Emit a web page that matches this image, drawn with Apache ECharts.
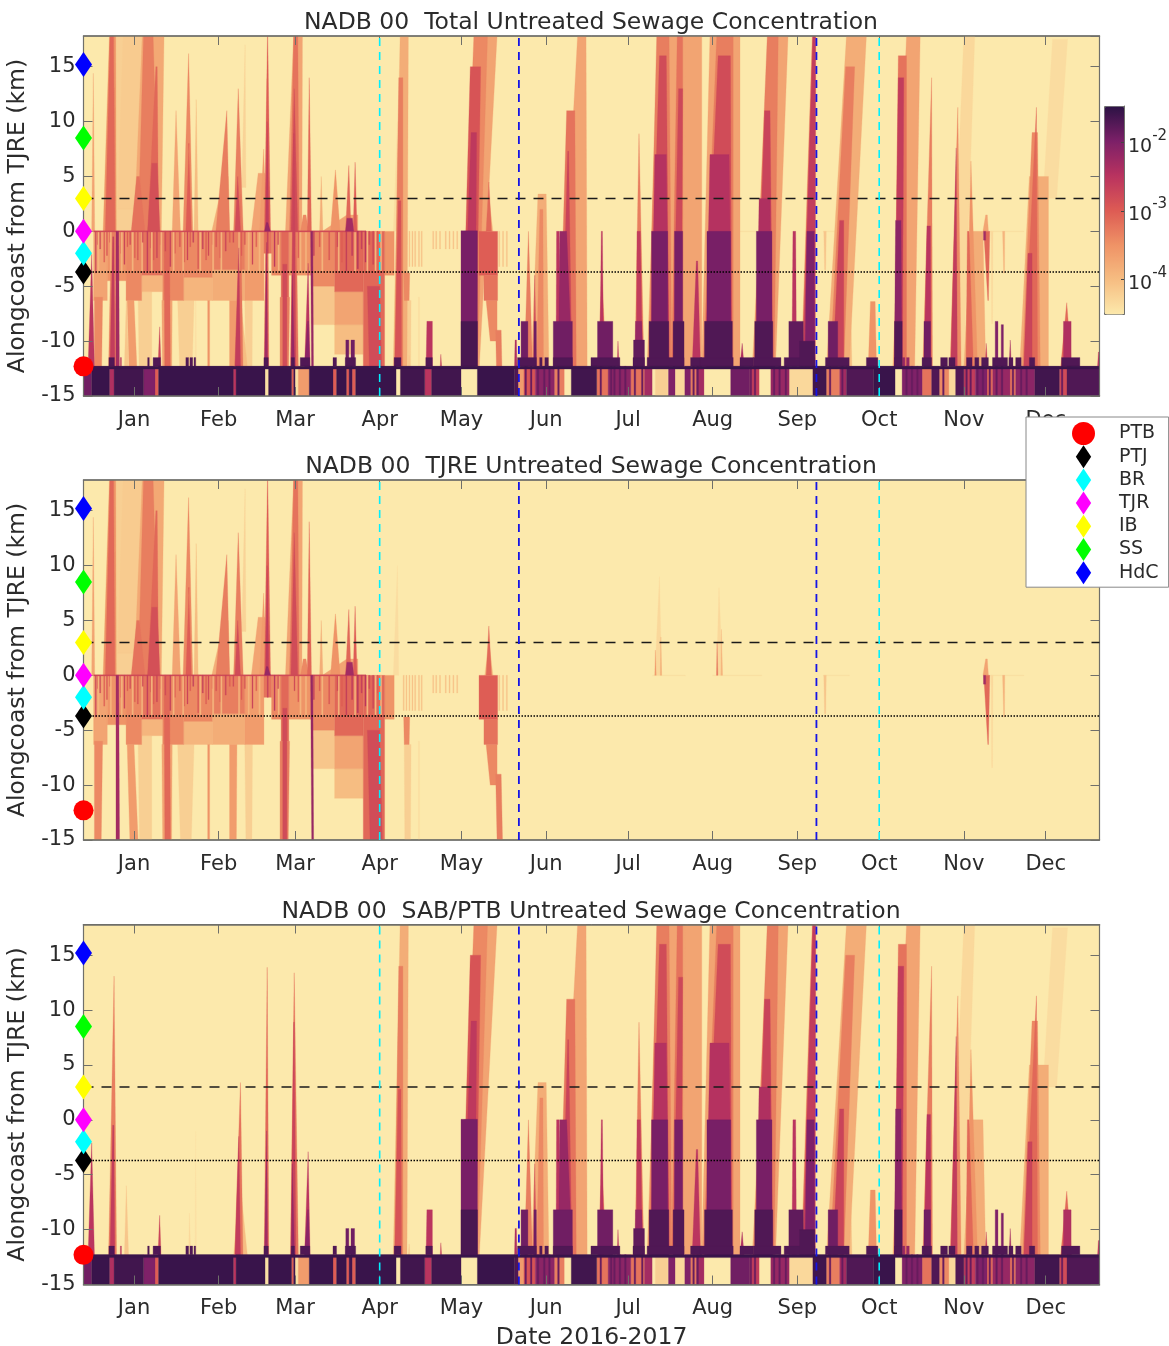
<!DOCTYPE html>
<html><head><meta charset="utf-8">
<style>html,body{margin:0;padding:0;background:#fff}#c{width:1169px;height:1346px}</style>
<script src="https://cdn.jsdelivr.net/npm/echarts@6/dist/echarts.min.js"></script>
</head><body><div id="c"></div>
<script>
const titles = ['NADB 00  Total Untreated Sewage Concentration','NADB 00  TJRE Untreated Sewage Concentration','NADB 00  SAB/PTB Untreated Sewage Concentration'];
const monthNames = ['Jan','Feb','Mar','Apr','May','Jun','Jul','Aug','Sep','Oct','Nov','Dec'];
const monthDays = [0,31,59,90,120,151,181,212,243,273,304,334];
const sites = [['PTB',-12.3],['PTJ',-3.7],['BR',-2],['TJR',0],['IB',3],['SS',8.5],['HdC',15.2]];
const siteColors = ['#ff0000','#000000','#00ffff','#ff00ff','#ffff00','#00ff00','#0000ff'];
const dashedKm = 3, dottedKm = -3.7;
const cyanDays = [90,273], blueDays = [141,250];
const colorbarTicks = [-4,-3,-2];

// all concentrations are log10; day 0 = 1 Jan. Plume row: [log10 c, dayL, dayR, km, topDayL, topDayR, topKm]
const sabPlumes = [
[-2.5,-16.8,-14.5,-12.3,-15.5,-15.5,-2.1],
[-3.3,-9.3,-6.4,-12.3,-7.3,-7.3,13.1],[-2.6,-8.8,-7,-12.3,-7.8,-7.4,-0.5],
[-4.1,-3.5,-2,-12.3,-2.8,-2.8,-6],[-2.7,8.8,9.9,-12.3,9.4,9.4,-8.7],
[-4.3,20,20.8,-12.3,20.3,20.3,-8.5],[-4.4,22.3,22.9,-12.3,22.6,22.6,-1],
[-4,36.5,41.5,-12.3,39,39,-6],[-3.2,36.9,39.9,-12.3,39,39,3.4],[-2.6,37,39,-12.3,38.4,38.4,-1.5],
[-3.1,47.7,49.4,-12.3,48.8,48.8,13.9],[-2.3,47.8,49,-12.3,48.6,48.6,-1],
[-3.2,57.3,60.2,-12.3,58.7,58.7,13.4],[-2.7,57.5,59.3,-12.3,58.5,58.7,8.9],[-2.2,57.6,58.8,-12.3,58,58,-4],
[-2.5,62.5,64.5,-12.3,63.8,63.8,-2.9],[-2.1,62.5,64.4,-12.3,63.6,63.9,-8.2],
[-3.8,95,100,-12.3,97.5,100.5,17.8],[-3.3,95.5,98.5,-12.3,97,98.5,14],[-2.9,95.5,98,-12.3,96.8,97.8,2.8],
[-4.1,100.5,101,-12.3,100.8,100.8,-11.3],[-2.5,107,109.3,-12.3,107.3,109.3,-8.2],[-2.6,112.2,112.7,-12.3,112.4,112.4,-11.2],
[-3.7,120,126.5,-12.3,125,133,17.8],[-3.4,120,125.8,-12.3,124.5,129.5,17.8],[-2.9,120.2,125.3,-12.3,123.2,127,15],[-2.55,120.5,125,-12.3,123.5,125.5,9],[-2.15,120,125,-12.3,121,124.5,0],
[-2.4,139.4,140.3,-12.3,139.6,140.1,-9.9],[-3.3,143,146,-12.3,144.5,144.5,0],[-3.8,145.5,152,-12.3,148,151,3.4],
[-2.8,146.3,147.4,-12.3,146.8,146.8,-4],[-3.4,147.5,150,-12.3,148.7,149.8,2],[-2.5,154.6,156.3,-12.3,154.8,155.8,0],
[-3.7,156,166,-12.3,162.5,165.6,17.8],[-3.2,155.8,162,-12.3,158.5,161.5,11],[-2.7,156.7,160.4,-12.3,158.9,159.2,7.3],[-2.2,155.5,160.5,-12.3,156,158.5,0],
[-2.5,170.6,172,-12.3,171.2,171.6,0],[-3.1,170,173,-12.3,171.4,171.4,-4],[-2.5,177,177.7,-12.3,177.3,177.3,-10],
[-3.3,183.5,186.8,-12.3,185,185,8.9],[-2.6,184,186.3,-12.3,184.3,185.5,0],[-2.2,183.5,186.5,-12.3,183.7,186,-8.2],
[-3.7,188,202,-12.3,192,203,17.8],[-3.3,188.5,197,-12.3,191.5,196,17.8],[-2.8,189,196,-12.3,192.5,195,16],[-2.45,189.5,196,-12.3,190.8,195,7],
[-3.2,197,201,-12.3,199,201,17.8],[-2.75,197.5,200.5,-12.3,199.5,201,13],
[-3.7,201,208,-12.3,202,208,17.8],[-2.5,204.5,207.5,-12.3,206,206.5,-2.7],
[-3.7,208,222,-12.3,211,222,17.8],[-3.3,208.5,219.5,-12.3,213.5,219.5,17.8],[-2.8,209,219,-12.3,214,218.5,16],[-2.45,209.5,219,-12.3,211,218,7],
[-2.4,222,223.5,-12.3,222.8,222.8,-10.2],
[-3.7,226.5,235,-12.3,233,239.6,17.8],[-3.3,227,234.5,-12.3,232,236,17.8],[-2.7,228,234,-12.3,231,233,11],[-2.4,228,233.7,-12.3,229,233,3],
[-2.5,241,242.7,-12.3,241.4,242.4,0],
[-3.2,244.5,249.6,-12.3,248.5,249.8,17.8],[-2.6,245,249.4,-12.3,248.7,249.6,17.8],[-2,245.8,249.4,-12.3,246.5,249.2,0],
[-3.8,253.7,262,-12.3,261,268.3,17.8],[-3.3,255,260,-12.3,260.7,264,15],[-2.7,256,260,-12.3,258.5,260,1],[-4,258,263,-12.3,260,262.5,-6.4],
[-3.5,269,272,-12.3,269.8,271.5,-6.4],
[-3.7,278,286,-12.3,283,288,17.8],[-3.2,278.6,283,-12.3,280,283,16],[-2.6,278.6,281.5,-12.3,280,282,14],[-2.1,278.6,281.3,-12.3,279,281,1],
[-3.3,289,292.5,-12.3,292.2,292.2,14],[-2.5,289.4,292,-12.3,290.5,291.8,0.5],
[-4.3,299,304,-12.3,304,308,17.8],[-3.4,299,303,-12.3,301.8,301.8,11.3],[-2.6,299.2,301.6,-12.3,301.2,301.2,7.6],
[-3.8,304,312,-12.3,306.5,311,0],[-3.5,304.8,309,-12.3,306.6,306.6,6.4],[-3.1,304.8,307.5,-12.3,305.3,305.9,0],
[-2.7,311.8,312.7,-12.3,312.2,312.2,-10.2],[-2.3,320.6,321.4,-12.3,321,321,-9.9],
[-4.35,333,338,3,336.5,342,17.5],[-3.8,324.5,335,-12.3,328,335,5],[-3.4,325.5,332,-12.3,329,331,9],[-3.1,326,331,-12.3,330.6,330.6,11.3],[-2.7,326,329,-12.3,327.5,329,-2],
[-3.1,339.5,343.5,-12.3,341.7,341.7,-6.5],[-2.5,353,353.7,-12.3,353.3,353.7,-11]
];
// dark boxes standing on the strip: [log10 c, dayL, dayR, topKm]
const sabBoxes = [
[-1.7,-9.2,-7.2,-11.5],[-2.5,-5,-4.6,-11.5],[-1.7,5,5.6,-11.5],[-1.7,7,9.7,-11.5],[-1.7,19,20,-11.5],[-1.7,20.5,21.5,-11.5],[-1.7,22,22.6,-11.5],
[-1.7,47.6,49.2,-11.5],[-1.7,57.6,58.8,-11.5],[-1.7,60.9,64.4,-11.5],[-1.7,72.9,74.2,-11.5],[-1.9,77.6,78.7,-9.9],[-1.9,79.5,80.8,-9.9],[-1.7,77.4,81.2,-11.5],
[-1.7,95.3,97.8,-11.5],[-1.7,106.9,109.3,-11.5],[-1.95,119.8,125.8,0.05],[-1.65,119.8,125.8,-8.2],
[-1.7,140.5,147.4,-11.5],[-1.7,148.6,149.5,-11.5],[-1.7,150.5,151.8,-11.5],[-1.7,153.6,160.6,-11.5],[-1.9,141.8,144.3,-8.2],[-1.9,146.5,147.4,-8.2],[-1.9,153.6,160.6,-8.2],
[-1.9,169.8,175.4,-8.2],[-1.7,167.4,178,-11.5],[-1.8,183,187,-9.9],[-1.7,182.8,187,-11.5],
[-1.95,189.6,195.5,0],[-1.7,188.7,195.9,-8.2],[-1.95,198,201,0],[-1.7,197.5,201.5,-8.2],[-1.7,188,201.5,-11.5],[-1.7,203.9,208,-11.5],
[-1.95,209.9,218.6,0],[-1.7,209,219.2,-8.2],[-1.7,207.5,219.5,-11.5],[-1.7,222,227,-11.5],
[-1.95,228,233.7,0],[-1.7,227.4,234,-8.2],[-1.7,226.9,237,-11.5],
[-1.8,239.9,245.2,-8.2],[-1.7,238.2,249.4,-11.5],[-1.7,243.8,249.4,-10],
[-1.9,254.3,257.8,-8.2],[-1.7,253.3,262,-11.5],[-1.7,268.3,272.5,-11.5],
[-1.7,278.6,281.4,-8.2],[-1.7,278.6,281.4,-11.5],[-2.2,281.7,282.4,-11.5],[-2.2,283,284,-11.5],
[-1.9,289.4,291.8,-8.2],[-1.7,288.7,292.2,-11.5],[-1.7,295.5,298,-11.5],[-1.7,298.5,300.8,-11.5],
[-1.7,305,307,-11.5],[-1.7,308,309.5,-11.5],[-1.7,310.5,313,-11.5],[-2,315.5,316.5,-8.2],[-2,317.7,318.5,-8.5],[-1.7,314.5,320,-11.5],[-1.7,320.5,322,-11.5],
[-1.7,323,325,-11.5],[-1.7,328,330,-11.5],[-2.4,340.5,343.3,-8.2],[-1.7,339.8,346.5,-11.5]
];
// SAB strip south of the border, km -15 to the shoreline: [log10 c, dayL, dayR]
const stripRuns = [
[-1.9,-18.5,-15.5],[-1.55,-15.5,-9],[-2.4,-9,-7.3],[-1.6,-7.3,3.5],[-2,3.5,7.7],[-3,7.7,9],[-1.55,9,36.4],[-2.5,36.4,37.4],[-1.55,37.4,48],[-4.4,48,49.3],
[-1.55,49.3,57.7],[-3,57.7,58.5],[-1.6,58.5,59],[-4.4,59,60.2],[-3.6,60.2,64.2],[-1.55,64.2,72.9],[-3,72.9,74.2],[-1.55,74.2,77.8],[-3,77.8,78.8],[-1.6,78.8,79.9],[-3,79.9,81.2],
[-1.55,81.2,96],[-1.6,97.6,106.5],[-2.5,106.5,109],[-1.6,109,119.8],[-1.55,125.8,139.4],[-1.7,139.4,140.7],[-3.6,140.7,142.8],[-2.9,142.8,147],[-2.1,147,154],[-3.3,154,157.6],
[-1.6,160.2,169.5],[-3.2,169.5,173.7],[-2.1,173.7,182],[-3.2,182,187],[-2.3,187,189.8],[-4.2,191,195.5],[-2,195.8,198.2],[-4.3,198.2,201.8],[-2,201.8,203.9],[-3.3,203.9,206],[-2.3,206,208.8],
[-1.9,218.6,225.6],[-2.6,225.6,229],[-2.2,233.3,240],[-4.3,240,248.7],[-1.6,248.7,253.6],[-3.3,253.6,258.5],[-2.3,258.5,261],[-1.7,261,271],[-1.55,271,278.8],
[-2,281.4,288.7],[-3.2,288.7,292.2],[-1.7,292.2,295],[-3.4,295,298.5],[-4.3,298.5,301],[-1.7,301,304],[-2.6,304,308.2],[-2,308.2,312.5],[-3.1,312.5,314.6],[-2.2,314.6,320.9],[-3.2,320.9,323],
[-2.1,323,330],[-1.6,330,339],[-2.8,339,341.8],[-1.7,341.8,353.7]
];
const stripStreakDays = [143.5,145.5,148,150.3,152.2,155.5,171,174.8,176,178,180,183.5,186.2,205,206.5,226,227.5,234.5,236.5,238.8,255,259.5,283,285,287,296.5,305,306.5,309,311,313.5,316,318,322,325,327,340];
const shorelineKm = -12.3, shelfKm = -12.55, stripBottomKm = -15, firstDay = -18.5, lastDay = 353.7;

const tjrePlumes = [
[-3.7,-15.5,-14.4,0,-14.9,-14.9,14.4],
[-4.2,-11,1,0,-7,2,17.8],[-3.5,-11.3,-6.5,0,-9,-6.7,17.8],[-3.1,-10.5,-7,0,-8.8,-7.5,17.8],[-4.15,-6,3,2,-4,3,17.8],
[-3.75,0,10,0,3,11,17.8],[-3.3,1.5,9,0,3.5,7,17.8],[-3.1,5,9,0,8,8.5,15],[-2.85,5,9.5,0,6.5,8.5,6.2],[-3.2,-1,4,0,1,2,5],
[-3.7,14,17,0,15.4,15.4,11],[-3.4,18,21.5,0,20,20,16.2],[-3,19,21,0,20.2,20,8],[-4,22,23.5,0,22.8,22.8,12],
[-3.8,28.5,35,0,33,34.5,5],[-3.3,30,35,0,34,34,11],[-3.3,36.5,40,0,38.2,38.2,13],[-2.8,37,39,0,38,38,5],
[-3.7,43,48.5,0,45.5,48,5.3],[-3.6,46,48.5,0,47.5,47.5,7.5],[-3,47.8,50,0,48.9,49,17.8],[-2.6,48.2,49.4,0,48.8,48.8,10],[-2.2,47.8,50,0,48.5,49,0.8],
[-4.25,39.5,41,4,40.7,40.7,17],[-3.7,55.5,61.5,0,58.5,61.7,17.8],[-3.2,57,60.5,0,58.5,60,17.8],[-2.8,57.5,60,0,58.7,58.7,13],
[-3.1,63.5,65,0,64.2,64.2,14],[-3.4,61,64,0,62,63,1.5],[-3.8,68,69.2,0,68.6,68.6,5],[-3.5,72,75.5,0,73.8,73.8,5.6],[-3.1,77.5,79.5,0,78.7,78.7,6],[-3,80.3,81.7,0,81,81,6.3],[-2.3,77.5,80.5,0,78,80,1.2],[-3.7,69,82,0,78,82,1.5],
[-4.35,95,97,0,96.5,96.5,10],[-3.1,129,131,0,130,130,4.5],[-3.9,128.5,131.5,0,130,130,3],
[-4.3,190.8,193.3,0,192.5,192.5,9],[-3.6,190.8,191.3,0,191,191,2.3],[-3.8,192.8,193.3,0,193,193,3.5],
[-4.3,213.4,215.6,0,214.3,214.3,8],[-3.2,213.4,213.9,0,213.6,213.6,3],[-3.9,215,215.6,0,215.2,215.2,4.2],
[-4.1,252.7,253.6,0,253,253.4,-3.5],[-3.7,311,313,0,312,312.6,1.5],[-3.1,311.3,313.5,0,312.8,313,-6.3],[-2.3,311.2,312,0,311.2,312,-0.8],[-4.3,314,314.7,0,314.2,314.5,-8.4],[-3.9,318.2,319,0,318.6,318.9,-3.8],
[-3.4,-14.5,-11.5,-6,-14.5,-12,-15],[-2.3,-6.6,-5.6,0,-6.6,-5.3,-15],[-3.6,-2.5,0,-6.3,-1.5,1.5,-15],[-4.2,1.5,6.5,-5.5,2,6.5,-15],
[-3.1,11,13,0,11.3,13.4,-15],[-3.7,10.2,14,-6.3,10.5,13.8,-15],[-4.2,16,22,-6.3,17,21,-15],[-3.5,27,27.7,-6.3,27,27.7,-15],[-3.6,35,37.7,-6.3,35,37.5,-15],[-4.2,40.6,43.4,-6.3,41,43.2,-15],
[-3.3,53.5,57,-6,53.5,56.5,-15],[-2.8,54.5,56,-3,54.5,56,-15],[-2.2,64.7,65.5,0,65.1,65.8,-15],[-2.8,85.5,90,-5,86.5,91,-15],
[-3.4,98.8,101,-3.8,99,100.8,-6.3],[-4.2,99,101.5,-6.3,99.2,101.3,-15],[-4.35,104.2,104.6,-6,104.2,104.6,-15],
[-3.4,129,133,-6.3,130.5,133,-10],[-3.3,132.5,134.5,-9,133,135,-15]
];
// stepped blocks below the river mouth: [log10 c, dayL, dayR, bottomKm, topKm]
const tjreBlocks = [
[-3.7,-14.8,-9.8,-6.3,0],[-3.5,-9.8,-2.9,-4.5,0],[-3.4,-2.9,2.8,-6.3,0],[-3.2,2.8,10.5,-4,0],[-3.9,2.8,10.5,-5.5,-4],[-3.4,10.5,18.2,-6.3,0],
[-3.4,18.2,28.7,-4.2,0],[-3.9,18.2,28.7,-6.3,-4.2],[-3.3,28.7,40.6,-3.5,0],[-3.8,28.7,40.6,-6.3,-3.5],[-3.6,40.6,47.6,-6.3,0],[-3.2,47.6,50.4,-2,0],[-3.4,50.4,53.9,-4,0],
[-3.1,53.9,56.7,-6,0],[-3.5,56.7,65,-4,0],[-3.4,65,73.5,-5,0],[-4.1,65,73.5,-8.5,-5],[-3.1,73.5,84,-5.5,0],[-3.7,73.5,84,-8.5,-5.5],[-4,73.5,84,-11.2,-8.5],[-3.1,84,91.8,-15,0],[-3.5,91.8,95.3,-4,0],
[-3,126.4,133.2,-4,0],[-3.2,128.2,133.2,-6.3,-4],[-2.8,-14.8,85,-0.06,0.05],
[-4.4,252.5,262,-0.05,0.03],[-4.4,212,230,-0.05,0.03],[-4.4,312,326,-0.05,0.03],[-4.4,190,202,-0.05,0.03]
];
// streaks in the river-mouth band: [day, bottomKm, log10 c]
const tjreDarkStreaks = [[-14,-3.8,-2.7],[-13.3,-1.2,-3],[-12.4,-1.6,-2.8],[-10.9,-2.8,-3],[-9.9,-2.2,-2.9],[-8.8,-1,-3],[-4.7,-2,-3],[-3.5,-3,-2.7],[-2.4,-1.4,-3],[-1.4,-1.2,-2.8],[0.3,-2.4,-3],[1.4,-2.6,-2.9],[3.2,-1,-2.8],[4.9,-3.6,-2.6],[6.2,-1.5,-2.9],[7.2,-2.6,-3],[8.4,-2.4,-2.7],[9.8,-1.2,-3],[11.5,-1.8,-2.8],[13.3,-3.2,-2.6],[15,-2,-3],[16.8,-1.4,-2.9],[18.4,-2.8,-3],[19.6,-2.6,-2.7],[20.6,-1.4,-3],[21.7,-1,-2.6],[23.5,-3.4,-2.9],[25.2,-1.6,-2.6],[26.4,-2.6,-3],[27.3,-2.2,-2.8],[28.8,-1.2,-3],[30.1,-1.4,-2.9],[31.6,-2.4,-3],[33.6,-1.8,-2.7],[35.1,-1,-3],[36.4,-1,-2.8],[39.4,-2.2,-3],[40.6,-1.2,-2.9],[43.4,-3,-2.7],[44.8,-1.4,-3],[49,-2,-2.6],[51.5,-3.2,-2.5],[52.8,-1.2,-2.8],[58.8,-1.4,-2.8],[60.2,-2.4,-3],[65.9,-2.2,-2.6],[68,-1.4,-3],[71.5,-2.6,-2.9],[74.5,-1.4,-2.8],[76.2,-2.8,-3],[77.8,-3.6,-2.6],[79.9,-2.2,-2.5],[82,-3.4,-2.4],[83.4,-1.6,-2.6],[84.8,-2.8,-2.5],[86.2,-1.2,-2.8],[87.6,-3,-2.7],[89.2,-1.6,-3]];
const tjreLightStreaks = [-13,-8.5,-4.5,-0.5,3,6.5,10,14.5,18,24.3,29,32,38.5,42,46,53,61,63,69,75,81,85.5,88.5,90.5];
const tjreFaintStreaks = [98.8,99.8,100.9,102,103,104.4,105.4,109.6,110.7,112.1,114.2,115.6,117,118.4,133.8,135.2,136.6];

const box = r => [r[0],r[1],r[2],r[3],r[1],r[2],r[4]];
const streak = (day,v,km,key,w) => [v,day-w/2,day+w/2,km,day-w/2,day+w/2,0,key];
const sabRows = sabPlumes.concat(sabBoxes.map(r=>box([r[0],r[1],r[2],shorelineKm,r[3]])));
const stripRows = stripRuns.map(r=>box([r[0],r[1],r[2],stripBottomKm,shorelineKm]))
  .concat([box([-1.55,firstDay,lastDay,shelfKm,shorelineKm])],
    stripStreakDays.map(d=>box([-1.85,d-0.3,d+0.3,stripBottomKm,shorelineKm])));
const tjreRows = tjrePlumes.concat(tjreBlocks.map(box),
  tjreLightStreaks.map(d=>streak(d,-3.9,-3.6,-2.85,0.5)),
  tjreDarkStreaks.map(s=>streak(s[0],s[2],s[1],s[2],0.35)),
  tjreFaintStreaks.map(d=>streak(d,-4.05,d<106||d>130?-3.2:-1.6,-3.9,0.35)));
const order = rows => rows.slice().sort((a,b)=>(a[7]??a[0])-(b[7]??b[0]));
const panelRows = [order(sabRows.concat(stripRows,tjreRows)),order(tjreRows),order(sabRows.concat(stripRows))];

const plotLeft=83.5, plotWidth=1016, plotHeight=360, plotTops=[36,480,924.5];
const kmMin=-15, kmMax=17.8;
const lineCol='#6f6f6a', textCol='#2b2b2b', font='DejaVu Sans';
const grid=[],xAxis=[],yAxis=[],series=[];
function renderPlume(params,api){
  const pts=[[api.value(1),api.value(3)],[api.value(2),api.value(3)],[api.value(5),api.value(6)],[api.value(4),api.value(6)]].map(c=>api.coord(c));
  const col=api.visual('color');
  return {type:'polygon',shape:{points:pts},style:{fill:col,stroke:col,lineWidth:0.3}};
}
plotTops.forEach((top,i)=>{
  grid.push({left:plotLeft,top,width:plotWidth,height:plotHeight,show:true,backgroundColor:'#FCE9AC',borderColor:lineCol,borderWidth:1,z:0,outerBoundsMode:'none'});
  const xBase={type:'value',min:firstDay,max:lastDay,gridIndex:i,splitLine:{show:false},z:3,
    axisLine:{show:true,onZero:false,lineStyle:{color:lineCol,width:1.5}},
    axisTick:{show:true,inside:true,length:9,customValues:monthDays,lineStyle:{color:lineCol}}};
  xAxis.push(Object.assign({},xBase,{position:'bottom',
    axisLabel:{show:true,customValues:monthDays,margin:14,color:textCol,fontFamily:font,fontSize:21,
      formatter:v=>monthNames[monthDays.indexOf(v)]},
    name:i===2?'Date 2016-2017':'',nameLocation:'middle',nameGap:41,nameTextStyle:{color:textCol,fontFamily:font,fontSize:23.5}}));
  xAxis.push(Object.assign({},xBase,{position:'top',axisLabel:{show:false}}));
  const yBase={type:'value',min:kmMin,max:kmMax,interval:5,gridIndex:i,splitLine:{show:false},z:3,
    axisLine:{show:true,onZero:false,lineStyle:{color:lineCol,width:1.2}},
    axisTick:{show:true,inside:true,length:9,lineStyle:{color:lineCol}}};
  yAxis.push(Object.assign({},yBase,{position:'left',
    axisLabel:{show:true,margin:8,color:textCol,fontFamily:font,fontSize:21,showMaxLabel:false},
    name:'Alongcoast from TJRE (km)',nameLocation:'middle',nameRotate:90,nameGap:47,
    nameTextStyle:{color:textCol,fontFamily:font,fontSize:23.5}}));
  yAxis.push(Object.assign({},yBase,{position:'right',axisLabel:{show:false}}));
  series.push({type:'custom',name:'plumes'+i,xAxisIndex:2*i,yAxisIndex:2*i,data:panelRows[i],renderItem:renderPlume,
    encode:{x:[1,2,4,5],y:[3,6]},clip:true,silent:true,progressive:0,animation:false,z:2});
});
plotTops.forEach((top,i)=>{
  const ax={xAxisIndex:2*i,yAxisIndex:2*i,type:'line',showSymbol:false,symbol:'none',silent:true,animation:false,z:4};
  series.push(Object.assign({},ax,{data:[[firstDay,dashedKm],[lastDay,dashedKm]],lineStyle:{color:'#1a1a1a',width:1.4,type:[10,8]}}));
  series.push(Object.assign({},ax,{data:[[firstDay,dottedKm],[lastDay,dottedKm]],lineStyle:{color:'#000',width:1.6,type:[1.5,1.5]}}));
  cyanDays.forEach(d=>series.push(Object.assign({},ax,{data:[[d,kmMin],[d,kmMax]],lineStyle:{color:'#00f0ff',width:1.6,type:[8,6]}})));
  blueDays.forEach(d=>series.push(Object.assign({},ax,{data:[[d,kmMin],[d,kmMax]],lineStyle:{color:'#1414e6',width:1.8,type:[8,6]}})));
});
const diamondPath='path://M8,0 L16,12 L8,24 L0,12 Z';
plotTops.forEach((top,i)=>{
  sites.forEach((s,k)=>{
    series.push({type:'scatter',name:s[0],xAxisIndex:2*i,yAxisIndex:2*i,data:[[firstDay,s[1]]],clip:false,silent:true,animation:false,z:6,
      symbol:k===0?'circle':diamondPath,symbolKeepAspect:false,symbolSize:k===0?20:[17,25],itemStyle:{color:siteColors[k],opacity:1}});
  });
});
// colourbar axis
const cbMin=-4.5,cbMax=-1.47;
grid.push({left:1104,top:106,width:20,height:208,show:false,outerBoundsMode:'none'});
xAxis.push({type:'value',gridIndex:3,min:0,max:1,show:false});
yAxis.push({type:'value',gridIndex:3,min:cbMin,max:cbMax,position:'right',splitLine:{show:false},z:10,
  axisLine:{show:true,onZero:false,lineStyle:{color:lineCol}},
  axisTick:{show:true,inside:true,length:3,customValues:colorbarTicks,lineStyle:{color:'#444'}},
  axisLabel:{show:true,customValues:colorbarTicks,margin:4,formatter:v=>'{a|10}{b|'+v+'}',
    rich:{a:{fontFamily:font,fontSize:19,color:textCol,verticalAlign:'bottom',lineHeight:28},b:{fontFamily:font,fontSize:15,color:textCol,verticalAlign:'top',lineHeight:28}}}});
series.push({type:'line',xAxisIndex:6,yAxisIndex:6,data:[],silent:true});

const option={
  animation:false,backgroundColor:'#fff',
  title:titles.map((t,i)=>({text:t,left:586,top:plotTops[i]-30,textAlign:'center',
    textStyle:{fontFamily:font,fontSize:23.5,fontWeight:'normal',color:textCol}})),
  grid,xAxis,yAxis,series,
  visualMap:{type:'continuous',seriesIndex:[0,1,2],dimension:0,min:cbMin,max:cbMax,left:1104,top:106,itemWidth:20,itemHeight:208,
    padding:0,calculable:false,text:null,showLabel:false,hoverLink:false,borderColor:lineCol,borderWidth:1,
    inRange:{color:['#FCE9AC','#F6BD82','#EF9366','#DD5B54','#B9335F','#7C2068','#2C1245']}},
  legend:{show:true,orient:'vertical',left:1026,top:417,z:50,zlevel:1,
    padding:[5,10,3,46],itemWidth:61,itemHeight:23,itemGap:0.2,symbolKeepAspect:true,
    backgroundColor:'#fff',borderColor:'#888',borderWidth:1,selectedMode:false,
    textStyle:{fontFamily:font,fontSize:19,color:textCol},
    data:sites.map((s,k)=>({name:s[0],icon:k===0?'circle':diamondPath}))}
};
echarts.init(document.getElementById('c'),null,{renderer:'canvas'}).setOption(option);
</script></body></html>
